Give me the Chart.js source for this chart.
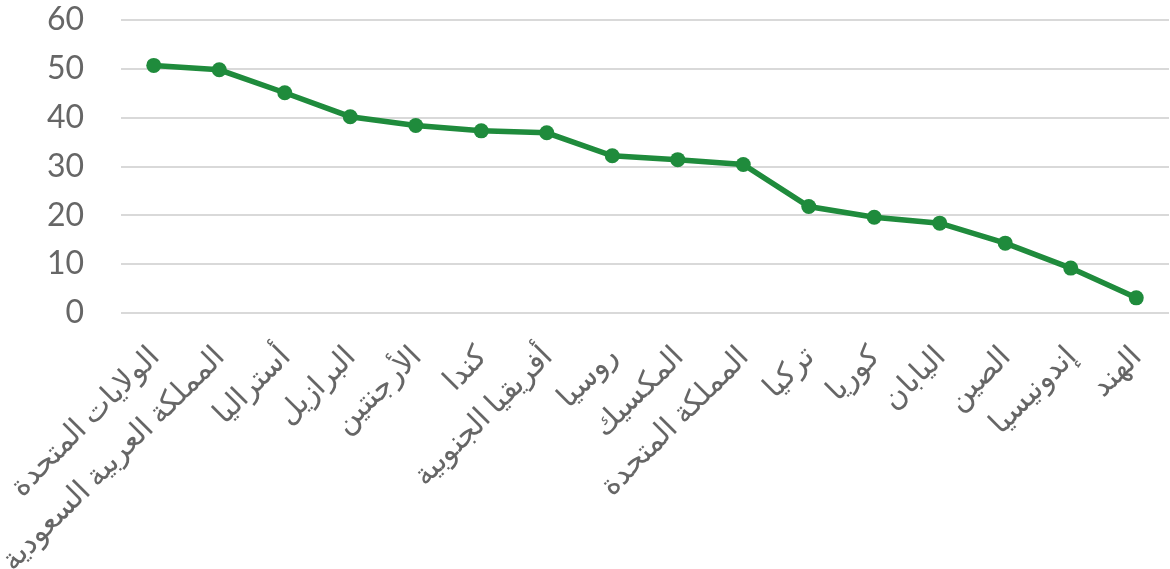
<!DOCTYPE html>
<html lang="ar">
<head>
<meta charset="utf-8">
<script src="https://cdn.jsdelivr.net/npm/chart.js@4/dist/chart.umd.min.js"></script>
<style>
    html, body { margin: 0; padding: 0; background: #ffffff; overflow: hidden; }
    #lineChart { display: block; }
</style>
</head>
<body>
<canvas id="lineChart" width="1170" height="569"></canvas>
<script>
// Datos del gráfico
const countries = [
    'الولايات المتحدة',
    'المملكة العربية السعودية',
    'أستراليا',
    'البرازيل',
    'الأرجنتين',
    'كندا',
    'أفريقيا الجنوبية',
    'روسيا',
    'المكسيك',
    'المملكة المتحدة',
    'تركيا',
    'كوريا',
    'اليابان',
    'الصين',
    'إندونيسيا',
    'الهند'
];
const values = [50.7, 49.8, 45.1, 40.2, 38.4, 37.3, 36.9, 32.2, 31.4, 30.4, 21.8, 19.6, 18.4, 14.3, 9.2, 3.1];
const yTicks = [0, 10, 20, 30, 40, 50, 60];

const GREEN = '#1f8b3c';
const TEXT = '#666666';
const GRID = '#d9d9d9';

Chart.defaults.font.family = "Lato, 'Noto Sans', sans-serif";
Chart.defaults.color = TEXT;

// Quita el relleno automático que añade Chart.js alrededor de los ejes
function noPadding(scale) {
    scale.paddingTop = 0;
    scale.paddingBottom = 0;
    scale.paddingLeft = 0;
    scale.paddingRight = 0;
}

new Chart(document.getElementById('lineChart'), {
    type: 'line',
    data: {
        labels: countries,
        datasets: [{
            data: values,
            borderColor: GREEN,
            backgroundColor: GREEN,
            borderWidth: 5.5,
            pointRadius: 7.5,
            pointHoverRadius: 7.5,
            pointBackgroundColor: GREEN,
            pointBorderWidth: 0,
            tension: 0
        }]
    },
    options: {
        responsive: false,
        animation: false,
        layout: {
            autoPadding: false,
            padding: { top: 20, right: 1, left: 0, bottom: 0 }
        },
        plugins: {
            legend: { display: false },
            tooltip: { enabled: false }
        },
        scales: {
            x: {
                offset: true,
                grid: { display: false, drawTicks: false },
                border: { display: false },
                ticks: {
                    minRotation: 45,
                    maxRotation: 45,
                    autoSkip: false,
                    padding: 26,
                    font: { size: 30 },
                    color: TEXT
                },
                afterFit: scale => {
                    scale.height = 256;
                    noPadding(scale);
                }
            },
            y: {
                min: 0,
                max: 60,
                afterBuildTicks: scale => {
                    scale.ticks = yTicks.map(v => ({ value: v }));
                },
                grid: { color: GRID, lineWidth: 2, drawTicks: false },
                border: { display: false },
                ticks: {
                    padding: 37,
                    font: { size: 32 },
                    color: TEXT
                },
                afterFit: scale => {
                    scale.width = 121;
                    noPadding(scale);
                }
            }
        }
    }
});
</script>
</body>
</html>
